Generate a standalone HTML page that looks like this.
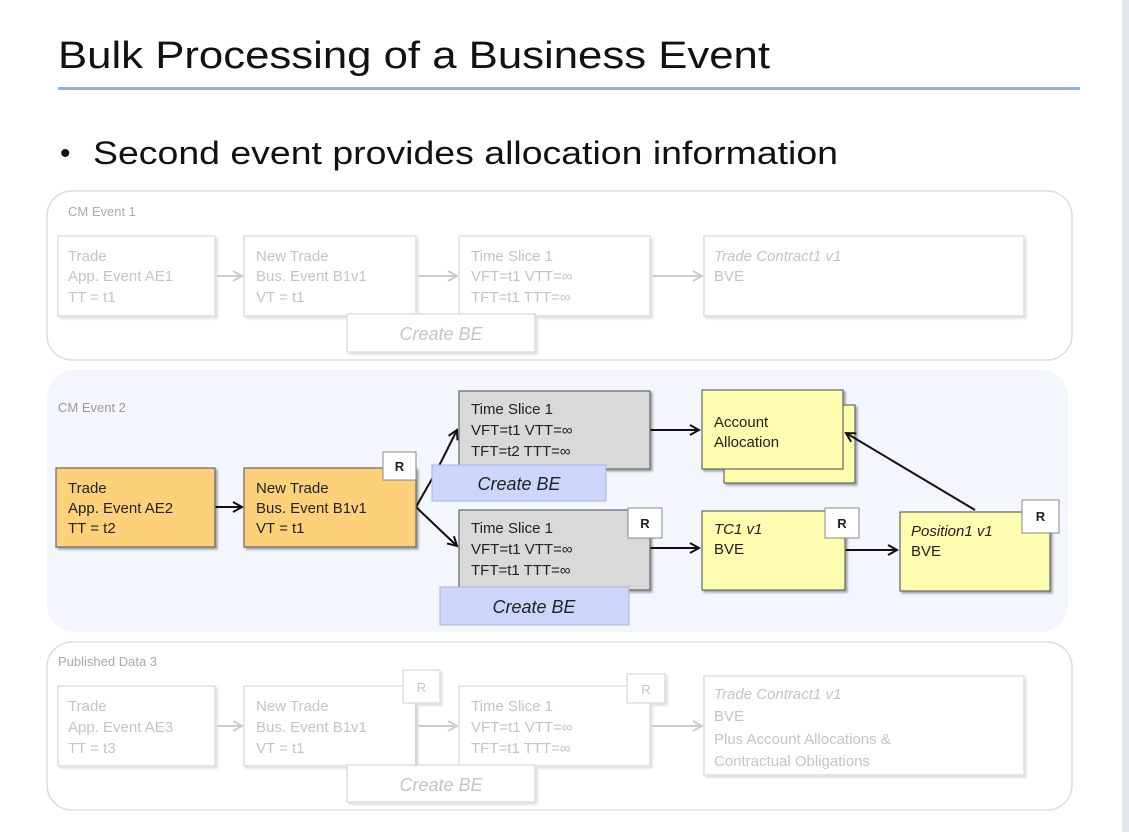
<!DOCTYPE html>
<html><head><meta charset="utf-8"><style>
html,body{margin:0;padding:0;background:#fff;}
svg{display:block;font-family:"Liberation Sans",sans-serif;}
</style></head><body>
<svg width="1129" height="832" viewBox="0 0 1129 832" xmlns="http://www.w3.org/2000/svg">
<defs>
<marker id="ab" markerWidth="12" markerHeight="12" refX="10" refY="6" orient="auto" markerUnits="userSpaceOnUse"><path d="M1,1 L10,6 L1,11" fill="none" stroke="#111" stroke-width="2"/></marker>
<marker id="ag" markerWidth="12" markerHeight="12" refX="10" refY="6" orient="auto" markerUnits="userSpaceOnUse"><path d="M1,1 L10,6 L1,11" fill="none" stroke="#ccc" stroke-width="2"/></marker>
<filter id="sh" x="-10%" y="-10%" width="130%" height="130%"><feDropShadow dx="2" dy="2" stdDeviation="1" flood-color="#000" flood-opacity="0.35"/></filter>
<filter id="shl" x="-10%" y="-10%" width="130%" height="130%"><feDropShadow dx="2" dy="2" stdDeviation="1" flood-color="#000" flood-opacity="0.12"/></filter>
</defs>
<rect x="1122" y="0" width="7" height="832" fill="#e2e6ee"/>
<text x="58" y="68" font-size="38" fill="#111" textLength="712" lengthAdjust="spacingAndGlyphs">Bulk Processing of a Business Event</text>
<rect x="58" y="87" width="1022" height="3" fill="#8fb0e8"/>
<text x="60" y="163" font-size="30" fill="#111">•</text>
<text x="93" y="164" font-size="32" fill="#111" textLength="745" lengthAdjust="spacingAndGlyphs">Second event provides allocation information</text>

<!-- Group 1 -->
<rect x="47" y="191" width="1025" height="169" rx="25" fill="#fff" stroke="#ddd" stroke-width="1.5"/>
<text x="68" y="216" font-size="13" fill="#aaa">CM Event 1</text>
<g fill="#fff" stroke="#ddd" stroke-width="1.5" filter="url(#shl)">
<rect x="58" y="236" width="157" height="80"/>
<rect x="244" y="236" width="172" height="80"/>
<rect x="459" y="236" width="191" height="80"/>
<rect x="704" y="236" width="320" height="80"/>
<rect x="347" y="314" width="188" height="38"/>
</g>
<g stroke="#ccc" stroke-width="2" fill="none">
<line x1="217" y1="276" x2="242" y2="276" marker-end="url(#ag)"/>
<line x1="418" y1="276" x2="457" y2="276" marker-end="url(#ag)"/>
<line x1="652" y1="276" x2="702" y2="276" marker-end="url(#ag)"/>
</g>
<g font-size="15" fill="#c4c4c4">
<text x="68" y="261">Trade</text><text x="68" y="281">App. Event AE1</text><text x="68" y="302">TT = t1</text>
<text x="256" y="261">New Trade</text><text x="256" y="281">Bus. Event B1v1</text><text x="256" y="302">VT = t1</text>
<text x="471" y="261">Time Slice 1</text><text x="471" y="281">VFT=t1 VTT=∞</text><text x="471" y="302">TFT=t1 TTT=∞</text>
<text x="714" y="261" font-style="italic">Trade Contract1 v1</text><text x="714" y="281">BVE</text>
<text x="441" y="340" font-size="18" font-style="italic" text-anchor="middle">Create BE</text>
</g>

<!-- Group 2 -->
<rect x="47" y="370" width="1021" height="262" rx="28" fill="#f3f6fd"/>
<text x="58" y="412" font-size="13" fill="#999">CM Event 2</text>
<g stroke="#111" stroke-width="2" fill="none">
<line x1="215" y1="507" x2="242" y2="507" marker-end="url(#ab)"/>
<polyline points="416,507 437,470 457,430" marker-end="url(#ab)"/>
<polyline points="416,507 437,527 457,546" marker-end="url(#ab)"/>
<line x1="650" y1="430" x2="699" y2="430" marker-end="url(#ab)"/>
<line x1="650" y1="548" x2="699" y2="548" marker-end="url(#ab)"/>
<line x1="845" y1="550" x2="897" y2="550" marker-end="url(#ab)"/>
</g>
<g stroke="#666" stroke-width="1.2" filter="url(#sh)">
<rect x="56" y="468" width="159" height="79" fill="#fdd17a"/>
<rect x="244" y="468" width="172" height="79" fill="#fdd17a"/>
<rect x="459" y="391" width="191" height="78" fill="#d9d9d9"/>
<rect x="459" y="510" width="191" height="80" fill="#d9d9d9"/>
<rect x="724" y="405" width="131" height="78" fill="#fefcae"/>
<rect x="702" y="390" width="141" height="79" fill="#fefcae"/>
<rect x="702" y="511" width="143" height="79" fill="#fefcae"/>
<rect x="900" y="512" width="150" height="79" fill="#fefcae"/>
</g>
<line x1="975" y1="510" x2="846" y2="433" stroke="#111" stroke-width="2" marker-end="url(#ab)"/>
<g fill="#cdd5fb" stroke="#aab4d8" stroke-width="1">
<rect x="432" y="465" width="174" height="36"/>
<rect x="440" y="587" width="189" height="38"/>
</g>
<g fill="#fff" stroke="#888" stroke-width="1">
<rect x="383" y="452" width="33" height="28"/>
<rect x="628" y="508" width="34" height="30"/>
<rect x="825" y="508" width="34" height="30"/>
<rect x="1022" y="500" width="37" height="33"/>
</g>
<g font-size="13" font-weight="bold" fill="#222" text-anchor="middle">
<text x="399.5" y="471">R</text><text x="645" y="528">R</text><text x="842" y="528">R</text><text x="1040.5" y="521">R</text>
</g>
<g font-size="15" fill="#222">
<text x="68" y="493">Trade</text><text x="68" y="513">App. Event AE2</text><text x="68" y="533">TT = t2</text>
<text x="256" y="493">New Trade</text><text x="256" y="513">Bus. Event B1v1</text><text x="256" y="533">VT = t1</text>
<text x="471" y="414">Time Slice 1</text><text x="471" y="435">VFT=t1 VTT=∞</text><text x="471" y="456">TFT=t2 TTT=∞</text>
<text x="471" y="533">Time Slice 1</text><text x="471" y="554">VFT=t1 VTT=∞</text><text x="471" y="575">TFT=t1 TTT=∞</text>
<text x="714" y="427">Account</text><text x="714" y="447">Allocation</text>
<text x="714" y="534" font-style="italic">TC1 v1</text><text x="714" y="554">BVE</text>
<text x="911" y="536" font-style="italic">Position1 v1</text><text x="911" y="556">BVE</text>
<text x="519" y="490" font-size="18" font-style="italic" text-anchor="middle">Create BE</text>
<text x="534" y="613" font-size="18" font-style="italic" text-anchor="middle">Create BE</text>
</g>

<!-- Group 3 -->
<rect x="47" y="642" width="1025" height="168" rx="25" fill="#fff" stroke="#ddd" stroke-width="1.5"/>
<text x="58" y="666" font-size="13" fill="#aaa">Published Data 3</text>
<g fill="#fff" stroke="#ddd" stroke-width="1.5" filter="url(#shl)">
<rect x="58" y="686" width="157" height="80"/>
<rect x="244" y="686" width="172" height="80"/>
<rect x="459" y="686" width="191" height="80"/>
<rect x="704" y="676" width="320" height="99"/>
<rect x="347" y="765" width="188" height="37"/>
<rect x="403" y="670" width="37" height="33"/>
<rect x="627" y="674" width="38" height="29"/>
</g>
<line x1="416" y1="703" x2="416" y2="766" stroke="#ccc" stroke-width="1.5"/>
<g stroke="#ccc" stroke-width="2" fill="none">
<line x1="217" y1="726" x2="242" y2="726" marker-end="url(#ag)"/>
<line x1="418" y1="726" x2="457" y2="726" marker-end="url(#ag)"/>
<line x1="652" y1="726" x2="702" y2="726" marker-end="url(#ag)"/>
</g>
<g font-size="15" fill="#c4c4c4">
<text x="68" y="711">Trade</text><text x="68" y="732">App. Event AE3</text><text x="68" y="753">TT = t3</text>
<text x="256" y="711">New Trade</text><text x="256" y="732">Bus. Event B1v1</text><text x="256" y="753">VT = t1</text>
<text x="471" y="711">Time Slice 1</text><text x="471" y="732">VFT=t1 VTT=∞</text><text x="471" y="753">TFT=t1 TTT=∞</text>
<text x="714" y="699" font-style="italic">Trade Contract1 v1</text><text x="714" y="721">BVE</text>
<text x="714" y="744">Plus Account Allocations &amp;</text><text x="714" y="766">Contractual Obligations</text>
<text x="441" y="791" font-size="18" font-style="italic" text-anchor="middle">Create BE</text>
<text x="421.5" y="692" font-size="13" text-anchor="middle">R</text>
<text x="646" y="694" font-size="13" text-anchor="middle">R</text>
</g>
</svg>
</body></html>
